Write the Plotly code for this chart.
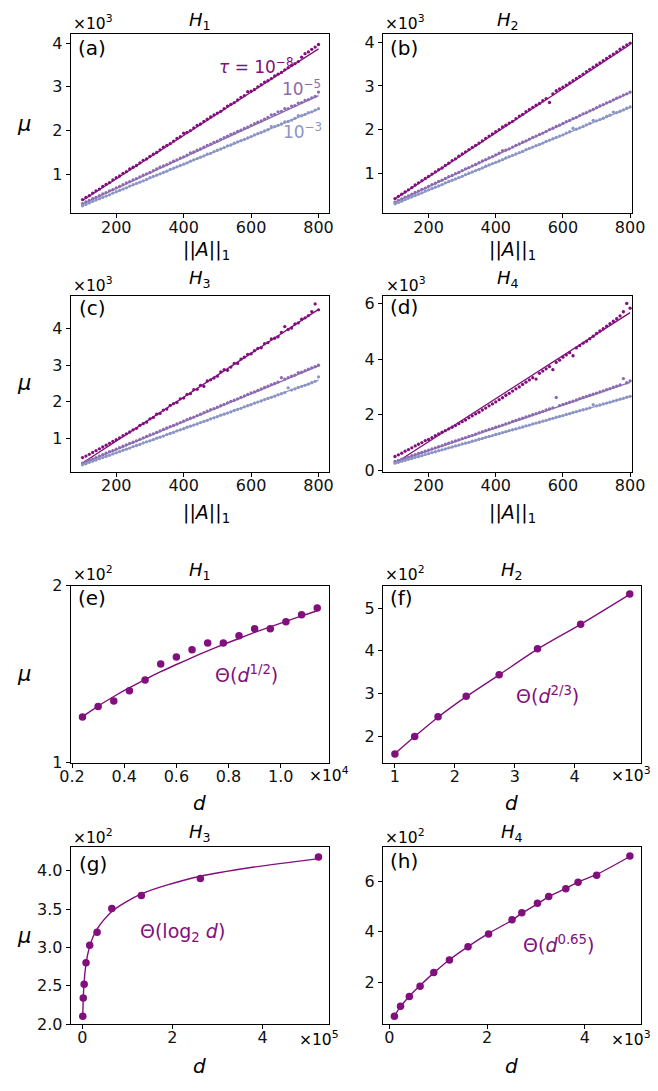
import plotly.graph_objects as go

W, H = 658, 1091
DARK, MED, LIGHT = "#810f7c", "#8c6bb1", "#8c96c6"
FONT = "DejaVu Sans"

# ---------------- data: panels (a)-(d), mu in units of 1e3 ----------------
x_norm = list(range(100, 801, 10))
fit_x = [100, 800]

a_t8 = [0.42,0.47,0.51,0.57,0.62,0.66,0.72,0.77,0.81,0.87,
        0.92,0.96,1.02,1.06,1.12,1.16,1.20,1.26,1.32,1.35,
        1.41,1.46,1.50,1.56,1.62,1.66,1.70,1.76,1.82,1.86,
        1.94,1.96,2.00,2.06,2.12,2.15,2.21,2.26,2.31,2.36,
        2.40,2.44,2.50,2.56,2.60,2.64,2.70,2.76,2.80,2.89,
        2.90,2.94,3.00,3.05,3.11,3.14,3.19,3.25,3.29,3.33,
        3.39,3.44,3.49,3.53,3.58,3.68,3.76,3.80,3.86,3.91,
        3.97]
a_t5 = [0.33,0.37,0.40,0.44,0.47,0.51,0.55,0.58,0.62,0.65,
        0.69,0.72,0.76,0.80,0.83,0.87,0.90,0.94,0.98,1.01,
        1.04,1.08,1.12,1.16,1.19,1.22,1.26,1.30,1.33,1.37,
        1.40,1.44,1.49,1.51,1.55,1.58,1.62,1.66,1.69,1.73,
        1.76,1.80,1.84,1.87,1.91,1.94,1.98,2.01,2.05,2.08,
        2.12,2.16,2.19,2.22,2.26,2.30,2.36,2.37,2.43,2.44,
        2.50,2.50,2.56,2.57,2.63,2.64,2.69,2.71,2.75,2.78,
        2.88]
a_t3 = [0.28,0.31,0.34,0.38,0.41,0.44,0.47,0.50,0.53,0.57,
        0.60,0.63,0.66,0.69,0.73,0.76,0.79,0.82,0.85,0.88,
        0.92,0.95,0.98,1.01,1.04,1.07,1.11,1.14,1.17,1.20,
        1.23,1.26,1.30,1.33,1.36,1.39,1.42,1.46,1.48,1.52,
        1.55,1.58,1.61,1.65,1.67,1.71,1.74,1.77,1.80,1.83,
        1.86,1.90,1.93,1.96,1.99,2.02,2.09,2.09,2.12,2.15,
        2.20,2.21,2.24,2.28,2.34,2.34,2.37,2.41,2.43,2.47,
        2.50]
a_fit_t8 = [0.40, 3.87]
a_fit_t5 = [0.32, 2.80]
a_fit_t3 = [0.28, 2.49]

b_t8 = [0.42,0.47,0.52,0.57,0.62,0.67,0.73,0.78,0.83,0.88,
        0.93,0.98,1.03,1.08,1.12,1.18,1.23,1.29,1.33,1.39,
        1.44,1.49,1.54,1.59,1.64,1.69,1.74,1.80,1.85,1.90,
        1.95,2.00,2.06,2.10,2.15,2.19,2.25,2.31,2.35,2.41,
        2.46,2.51,2.56,2.60,2.66,2.71,2.62,2.82,2.89,2.93,
        2.97,3.02,3.07,3.12,3.17,3.22,3.27,3.33,3.38,3.43,
        3.48,3.53,3.58,3.63,3.68,3.73,3.78,3.84,3.89,3.94,
        3.98]
b_t5 = [0.34,0.38,0.41,0.45,0.48,0.52,0.56,0.59,0.63,0.66,
        0.70,0.74,0.77,0.81,0.84,0.88,0.92,0.95,0.99,1.02,
        1.06,1.10,1.13,1.17,1.20,1.24,1.28,1.31,1.35,1.38,
        1.42,1.46,1.52,1.53,1.56,1.60,1.64,1.67,1.71,1.74,
        1.78,1.82,1.85,1.89,1.92,1.96,2.00,2.03,2.07,2.10,
        2.14,2.18,2.21,2.25,2.28,2.32,2.36,2.39,2.43,2.46,
        2.50,2.54,2.57,2.61,2.64,2.68,2.72,2.75,2.79,2.82,
        2.86]
b_t3 = [0.30,0.33,0.36,0.40,0.43,0.46,0.49,0.52,0.55,0.59,
        0.62,0.65,0.68,0.71,0.74,0.78,0.81,0.84,0.87,0.90,
        0.93,0.97,1.00,1.03,1.06,1.09,1.12,1.16,1.19,1.22,
        1.25,1.28,1.31,1.35,1.38,1.41,1.44,1.47,1.50,1.54,
        1.57,1.60,1.63,1.66,1.69,1.73,1.76,1.79,1.82,1.85,
        1.88,1.92,1.95,2.03,2.01,2.04,2.07,2.11,2.14,2.21,
        2.20,2.23,2.26,2.30,2.33,2.40,2.39,2.42,2.45,2.49,
        2.52]
b_fit_t8 = [0.41, 3.95]
b_fit_t5 = [0.33, 2.85]
b_fit_t3 = [0.29, 2.51]

c_t8 = [0.47,0.51,0.56,0.61,0.66,0.71,0.76,0.81,0.86,0.91,
        0.96,1.01,1.07,1.12,1.17,1.23,1.27,1.35,1.40,1.44,
        1.53,1.57,1.66,1.68,1.77,1.80,1.90,1.95,1.98,2.08,
        2.10,2.20,2.22,2.33,2.34,2.45,2.42,2.57,2.60,2.65,
        2.70,2.82,2.88,2.86,2.95,3.05,3.05,3.17,3.22,3.30,
        3.31,3.40,3.46,3.48,3.59,3.62,3.72,3.74,3.78,3.90,
        4.06,3.98,4.02,4.13,4.16,4.26,4.30,4.36,4.47,4.68,
        4.52]
c_t5 = [0.32,0.36,0.40,0.43,0.47,0.51,0.55,0.59,0.63,0.66,
        0.70,0.74,0.78,0.82,0.86,0.89,0.93,0.97,1.01,1.05,
        1.09,1.12,1.16,1.20,1.24,1.28,1.32,1.35,1.39,1.43,
        1.47,1.51,1.55,1.58,1.62,1.66,1.70,1.74,1.78,1.81,
        1.85,1.89,1.93,1.97,2.01,2.04,2.08,2.12,2.16,2.20,
        2.24,2.27,2.31,2.35,2.39,2.43,2.47,2.50,2.54,2.66,
        2.62,2.66,2.70,2.73,2.80,2.81,2.85,2.89,2.93,2.96,
        3.00]
c_t3 = [0.27,0.30,0.34,0.37,0.40,0.44,0.47,0.50,0.53,0.57,
        0.60,0.63,0.67,0.70,0.73,0.77,0.80,0.83,0.87,0.90,
        0.93,0.96,1.00,1.03,1.06,1.10,1.13,1.16,1.20,1.23,
        1.26,1.30,1.33,1.36,1.39,1.43,1.46,1.49,1.53,1.56,
        1.59,1.63,1.66,1.69,1.72,1.76,1.79,1.82,1.86,1.89,
        1.92,1.96,1.99,2.02,2.06,2.09,2.12,2.15,2.19,2.22,
        2.25,2.38,2.32,2.35,2.39,2.42,2.45,2.48,2.52,2.56,
        2.68]
c_fit_t8 = [0.32, 4.53]
c_fit_t5 = [0.30, 2.98]
c_fit_t3 = [0.27, 2.59]

d_t8 = [0.50,0.56,0.62,0.69,0.75,0.81,0.88,0.94,1.00,1.07,
        1.11,1.18,1.25,1.31,1.37,1.43,1.49,1.55,1.61,1.68,
        1.75,1.81,1.89,1.96,2.03,2.09,2.17,2.24,2.32,2.39,
        2.46,2.54,2.61,2.70,2.77,2.85,2.93,3.00,3.09,3.17,
        3.25,3.33,3.28,3.49,3.57,3.65,3.73,3.62,3.88,3.96,
        4.07,4.15,4.23,4.12,4.40,4.48,4.57,4.64,4.73,4.82,
        4.92,5.01,5.09,5.18,5.27,5.36,5.45,5.55,5.70,6.00,
        5.83]
d_t5 = [0.32,0.36,0.40,0.44,0.48,0.53,0.57,0.61,0.65,0.69,
        0.73,0.77,0.81,0.85,0.89,0.94,0.98,1.02,1.06,1.10,
        1.14,1.18,1.22,1.26,1.30,1.35,1.39,1.43,1.47,1.51,
        1.55,1.59,1.63,1.67,1.71,1.76,1.80,1.84,1.88,1.92,
        1.96,2.00,2.04,2.08,2.12,2.17,2.21,2.25,2.62,2.33,
        2.37,2.41,2.45,2.49,2.53,2.58,2.62,2.66,2.70,2.74,
        2.78,2.82,2.86,2.90,2.94,2.99,3.03,3.07,3.30,3.15,
        3.22]
d_t3 = [0.26,0.29,0.33,0.36,0.40,0.43,0.47,0.50,0.53,0.57,
        0.60,0.64,0.67,0.71,0.74,0.77,0.81,0.84,0.88,0.91,
        0.95,0.98,1.01,1.05,1.08,1.12,1.15,1.19,1.22,1.25,
        1.29,1.32,1.36,1.39,1.43,1.46,1.49,1.53,1.56,1.60,
        1.63,1.67,1.70,1.73,1.77,1.80,1.84,1.87,1.91,1.94,
        1.97,2.01,2.04,2.08,2.11,2.15,2.18,2.21,2.25,2.36,
        2.32,2.35,2.39,2.42,2.45,2.49,2.52,2.56,2.59,2.63,
        2.66]
d_fit_t8 = [0.26, 5.67]
d_fit_t5 = [0.30, 3.16]
d_fit_t3 = [0.25, 2.65]

# ---------------- data: panels (e)-(h), mu in units of 1e2 ----------------
e_d = [0.24,0.30,0.36,0.42,0.48,0.54,0.60,0.66,0.72,0.78,0.84,0.90,0.96,1.02,1.08,1.14]  # x1e4
e_mu = [1.258,1.318,1.348,1.407,1.467,1.558,1.597,1.638,1.677,1.677,1.717,1.757,1.757,1.797,1.836,1.875]
e_fit = [1.260,1.320,1.374,1.424,1.470,1.514,1.555,1.594,1.632,1.668,1.702,1.736,1.768,1.799,1.830,1.859]

f_d = [1.00,1.33,1.72,2.19,2.74,3.38,4.10,4.92]  # x1e3
f_mu = [1.59,2.00,2.46,2.94,3.44,4.05,4.62,5.33]
f_fit = [1.60,2.00,2.45,2.93,3.44,4.04,4.62,5.32]

g_d = [0.01024,0.02048,0.04096,0.08192,0.16384,0.32768,0.65536,1.31072,2.62144,5.24288]  # x1e5
g_mu = [2.10,2.34,2.52,2.80,3.03,3.20,3.51,3.68,3.90,4.18]
g_fit_d = [0.01024,0.01448,0.02048,0.02896,0.04096,0.05793,0.08192,0.11585,0.16384,0.23170,
           0.32768,0.46341,0.65536,0.92682,1.31072,1.85364,2.62144,3.70728,5.24288]
g_fit = [2.10,2.21,2.33,2.44,2.55,2.67,2.78,2.90,3.01,3.13,
         3.24,3.35,3.47,3.58,3.70,3.81,3.93,4.04,4.16]

h_d = [0.105,0.23,0.41,0.63,0.91,1.23,1.61,2.03,2.51,2.71,3.03,3.26,3.61,3.86,4.24,4.92]  # x1e3
h_mu = [0.66,1.05,1.44,1.84,2.39,2.88,3.40,3.91,4.47,4.75,5.12,5.39,5.70,5.95,6.23,6.99]
h_fit = [0.68,1.04,1.45,1.87,2.37,2.89,3.41,3.93,4.45,4.73,5.10,5.38,5.71,5.96,6.26,6.97]

# ---------------- layout helpers ----------------
def px(x):
    return x / W

def py(y):
    return 1 - y / H

panels = [
    ("a", 62, 330, 25, 208, [65, 831], [0.105, 4.22], [200, 400, 600, 800], None, [1, 2, 3, 4], None),
    ("b", 386, 645, 25, 208, [64, 807], [0.08, 4.20], [200, 400, 600, 800], None, [1, 2, 3, 4], None),
    ("c", 62, 330, 292, 471, [65, 831], [0.08, 4.90], [200, 400, 600, 800], None, [1, 2, 3, 4], None),
    ("d", 386, 645, 292, 471, [64, 807], [-0.05, 6.27], [200, 400, 600, 800], None, [0, 2, 4, 6], None),
    ("e", 62, 330, 587, 767, [0.195, 1.185], [1.0, 2.0], [0.2, 0.4, 0.6, 0.8, 1.0],
     ["0.2", "0.4", "0.6", "0.8", "1.0"], [1, 2], None),
    ("f", 386, 654, 587, 767, [0.80, 5.11], [1.39, 5.52], [1, 2, 3, 4], None, [2, 3, 4, 5], None),
    ("g", 62, 330, 853, 1033, [-0.257, 5.476], [2.0, 4.31], [0, 2, 4], None,
     [2.0, 2.5, 3.0, 3.5, 4.0], ["2.0", "2.5", "3.0", "3.5", "4.0"]),
    ("h", 386, 654, 853, 1033, [-0.13, 5.15], [0.35, 7.34], [0, 2, 4], None, [2, 4, 6], None),
]

fig = go.Figure()
layout = dict(
    width=W, height=H, margin=dict(l=0, r=0, t=0, b=0),
    paper_bgcolor="white", plot_bgcolor="white", showlegend=False,
    font=dict(family=FONT, size=16, color="black"),
)
axis_ref = {}
for i, (k, x0, x1, y0, y1, xr, yr, xt, xtt, yt, ytt) in enumerate(panels):
    n = "" if i == 0 else str(i + 1)
    axis_ref[k] = ("x" + n, "y" + n)
    common = dict(showline=True, mirror=True, linecolor="black", linewidth=1,
                  ticks="outside", ticklen=4, tickwidth=1, tickcolor="black",
                  showgrid=False, zeroline=False,
                  tickfont=dict(family=FONT, size=16, color="#111"))
    xa = dict(common, domain=[px(x0), px(x1)], range=xr, anchor="y" + n, tickvals=xt,
              ticklabelstandoff=-5)
    if xtt:
        xa["ticktext"] = xtt
    ya = dict(common, domain=[py(y1), py(y0)], range=yr, anchor="x" + n, tickvals=yt)
    if ytt:
        ya["ticktext"] = ytt
    layout["xaxis" + n] = xa
    layout["yaxis" + n] = ya


def add_scatter_panel(k, series, fits):
    xa, ya = axis_ref[k]
    for (vals, col), fv in zip(series, fits):
        fig.add_trace(go.Scatter(x=x_norm, y=vals, mode="markers", xaxis=xa, yaxis=ya,
                                 marker=dict(size=3.3, color=col, line=dict(width=0))))
        fig.add_trace(go.Scatter(x=fit_x, y=fv, mode="lines", xaxis=xa, yaxis=ya,
                                 line=dict(color=col, width=1.3)))


add_scatter_panel("a", [(a_t8, DARK), (a_t5, MED), (a_t3, LIGHT)], [a_fit_t8, a_fit_t5, a_fit_t3])
add_scatter_panel("b", [(b_t8, DARK), (b_t5, MED), (b_t3, LIGHT)], [b_fit_t8, b_fit_t5, b_fit_t3])
add_scatter_panel("c", [(c_t8, DARK), (c_t5, MED), (c_t3, LIGHT)], [c_fit_t8, c_fit_t5, c_fit_t3])
add_scatter_panel("d", [(d_t8, DARK), (d_t5, MED), (d_t3, LIGHT)], [d_fit_t8, d_fit_t5, d_fit_t3])


def add_growth_panel(k, xd, yd, xf, yf):
    xa, ya = axis_ref[k]
    fig.add_trace(go.Scatter(x=xf, y=yf, mode="lines", xaxis=xa, yaxis=ya,
                             line=dict(color=DARK, width=1.4, shape="spline", smoothing=0.8)))
    fig.add_trace(go.Scatter(x=xd, y=yd, mode="markers", xaxis=xa, yaxis=ya,
                             marker=dict(size=7.5, color=DARK, line=dict(width=0))))


add_growth_panel("e", e_d, e_mu, e_d, e_fit)
add_growth_panel("f", f_d, f_mu, f_d, f_fit)
add_growth_panel("g", g_d, g_mu, g_fit_d, g_fit)
add_growth_panel("h", h_d, h_mu, h_d, h_fit)

ann = []


def txt(x, y, text, size=15, color="black", xanchor="center", yanchor="middle"):
    ann.append(dict(x=px(x), y=py(y), xref="paper", yref="paper", text=text, showarrow=False,
                    xanchor=xanchor, yanchor=yanchor,
                    font=dict(family=FONT, size=size, color=color)))


# titles
titles = {"a": (196, 12, 1), "b": (516, 12, 2), "c": (196, 275, 3), "d": (516, 275, 4),
          "e": (196, 572, 1), "f": (520, 572, 2), "g": (196, 839, 3), "h": (520, 839, 4)}
for k, (x, y, n) in titles.items():
    txt(x, y, "<i>H</i><sub>%d</sub>" % n, size=18)

# panel labels
labels = {"a": (67, 40), "b": (391, 40), "c": (68, 304), "d": (391, 303),
          "e": (67, 599), "f": (391, 599), "g": (68, 870), "h": (391, 867)}
for k, (x, y) in labels.items():
    txt(x, y, "(%s)" % k, size=20, xanchor="left")

# offset texts (top-left)
offs = {"a": (62, 14, 3), "b": (386, 14, 3), "c": (62, 280, 3), "d": (387, 280, 3),
        "e": (62, 574, 2), "f": (386, 574, 2), "g": (62, 842, 2), "h": (386, 842, 2)}
for k, (x, y, e) in offs.items():
    txt(x, y, "×10<sup>%d</sup>" % e, size=15.5, xanchor="left")

# offset texts (bottom-right of x axes)
for (x, y, e) in [(307, 779, 4), (621, 779, 3), (297, 1048, 5), (621, 1048, 3)]:
    txt(x, y, "×10<sup>%d</sup>" % e, size=15.5, xanchor="left")

# axis titles
for y in (117, 381, 677, 943):
    txt(13, y, "<i>μ</i>", size=21)
for (x, y) in [(203, 246), (521, 246), (203, 513), (521, 513)]:
    txt(x, y, "||<i>A</i>||<sub>1</sub>", size=19)
for (x, y) in [(196, 808), (519, 808), (196, 1076), (519, 1076)]:
    txt(x, y, "<i>d</i>", size=20)

# series labels in (a)
txt(254, 58, "<i>τ</i> = 10<sup>−8</sup>", size=17, color=DARK)
txt(302, 80, "10<sup>−5</sup>", size=17, color=MED)
txt(303, 124, "10<sup>−3</sup>", size=17, color=LIGHT)

# growth labels
txt(244, 677, "Θ(<i>d</i><sup>1/2</sup>)", size=19, color=DARK)
txt(557, 698, "Θ(<i>d</i><sup>2/3</sup>)", size=19, color=DARK)
txt(178, 940, "Θ(log<sub>2</sub> <i>d</i>)", size=19, color=DARK)
txt(568, 952, "Θ(<i>d</i><sup>0.65</sup>)", size=19, color=DARK)

layout["annotations"] = ann
fig.update_layout(**layout)
fig.write_html(
    "out.html",
    config={"displayModeBar": False},
    post_script="document.body.style.margin='0px';document.body.style.overflow='hidden';",
)
